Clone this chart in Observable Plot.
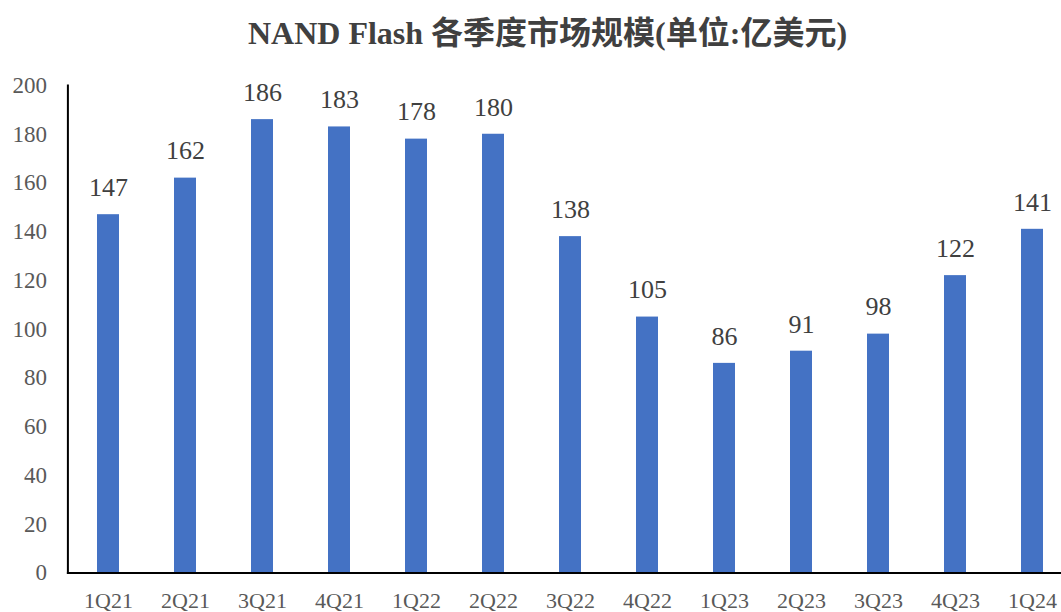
<!DOCTYPE html>
<html><head><meta charset="utf-8">
<script src="https://cdn.jsdelivr.net/npm/d3@7"></script>
<script src="https://cdn.jsdelivr.net/npm/@observablehq/plot@0.6"></script>
<style>
html,body{margin:0;padding:0;overflow:hidden;background:#fff;width:1061px;height:612px;}
#title{box-sizing:border-box;width:1061px;height:60px;padding-left:34px;text-align:center;font-family:"Liberation Serif","Noto Sans CJK SC",serif;font-weight:bold;font-size:32px;color:#404040;line-height:66px;white-space:nowrap;overflow:hidden;}
#chart{width:1061px;overflow:hidden;}
#chart svg{display:block;overflow:hidden !important;}
#chart svg text{font-family:"Liberation Serif",serif;}
</style></head>
<body>
<div id="title">NAND Flash 各季度市场规模(单位:亿美元)</div>
<div id="chart"></div>
<script>
const quarters = ["1Q21","2Q21","3Q21","4Q21","1Q22","2Q22","3Q22","4Q22","1Q23","2Q23","3Q23","4Q23","1Q24"];
const values = [147,162,186,183,178,180,138,105,86,91,98,122,141];
const yTicks = [0,20,40,60,80,100,120,140,160,180,200];

const data = quarters.map((q,i)=>({q, v: values[i]}));
const chart = Plot.plot({
  width: 1061,
  height: 552,
  marginTop: 25,
  marginBottom: 39.5,
  marginLeft: 67.4,
  marginRight: 0,
  style: {fontFamily: "'Liberation Serif', serif", background: "#fff", overflow: "hidden"},
  x: {domain: quarters, range: [67.4, 1071.6], paddingInner: 0.715, paddingOuter: 0.3575, label: null},
  y: {domain: [0,200], label: null},
  marks: [
    Plot.barY(data, {x: "q", y: "v", fill: "#4472C4"}),
    Plot.frame({anchor: "left", stroke: "#000", strokeWidth: 2}),
    Plot.frame({anchor: "bottom", stroke: "#000", strokeWidth: 2}),
    Plot.axisY({ticks: yTicks, tickSize: 0, tickPadding: 21, fontSize: 23, fill: "#595959", label: null}),
    Plot.axisX({tickSize: 0, tickPadding: 19, fontSize: 22, fill: "#595959", label: null}),
    Plot.text(data, {x: "q", y: "v", text: d => String(d.v), dy: -27, fontSize: 26, fill: "#404040"})
  ]
});
document.getElementById("chart").appendChild(chart);
</script>
</body></html>
